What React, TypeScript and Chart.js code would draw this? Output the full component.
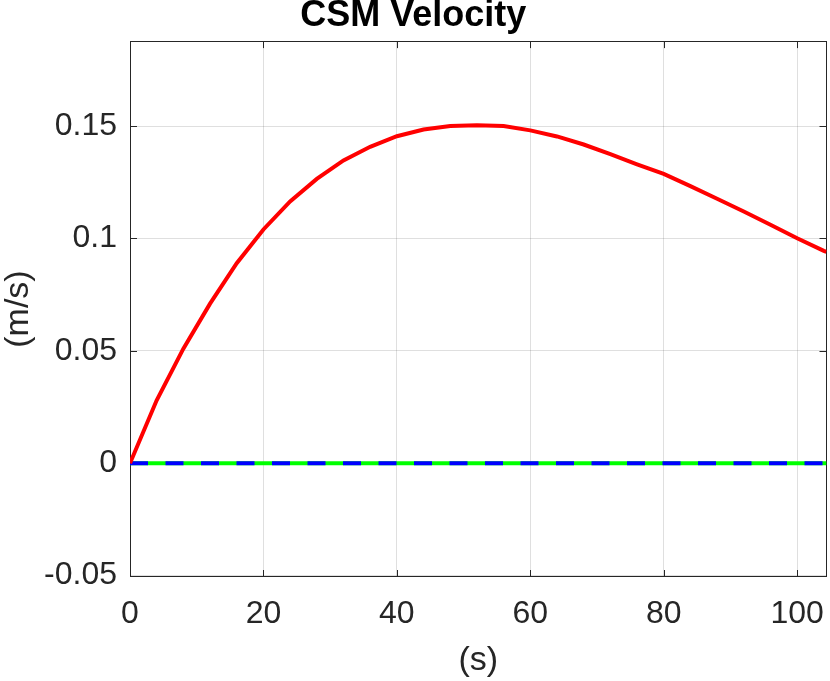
import { useEffect, useRef } from 'react';
import { Chart, registerables } from 'chart.js';

Chart.register(...registerables);

// time samples (s)
const timeS = [0, 4, 8, 12, 16, 20, 24, 28, 32, 36, 40, 44, 48, 52, 56, 60, 64, 68, 72, 76, 80, 84, 88, 92, 96, 100, 104, 104.4];

// velocity components (m/s)
const velX = [
  0, 0.028, 0.051, 0.071, 0.089, 0.104, 0.1165, 0.1265, 0.1347, 0.1408, 0.1455, 0.1485, 0.15, 0.1504,
  0.15, 0.1481, 0.1454, 0.1418, 0.1375, 0.133, 0.1287, 0.1233, 0.1177, 0.112, 0.1061, 0.1001, 0.0945, 0.094,
];
const velY = [0, 0, 0, 0, 0, 0, 0, 0, 0, 0, 0, 0, 0, 0, 0, 0, 0, 0, 0, 0, 0, 0, 0, 0, 0, 0, 0, 0];
const velZ = [0, 0, 0, 0, 0, 0, 0, 0, 0, 0, 0, 0, 0, 0, 0, 0, 0, 0, 0, 0, 0, 0, 0, 0, 0, 0, 0, 0];

const xTicks = [0, 20, 40, 60, 80, 100];
const yTicks = [-0.05, 0, 0.05, 0.1, 0.15];
const yTickLabels = ['-0.05', '0', '0.05', '0.1', '0.15'];

const AXIS = '#262626';
const FONT = "'Liberation Sans', Arial, Helvetica, sans-serif";

const toPoints = (ys: number[]) => timeS.map((t, i) => ({ x: t, y: ys[i] }));

// box around the axes + inward tick marks, like matlab
const axesBox = {
  id: 'axesBox',
  beforeDatasetsDraw(chart: any) {
    const { ctx, chartArea: a, scales } = chart;
    const len = 7;
    ctx.save();
    ctx.strokeStyle = AXIS;
    ctx.lineWidth = 1;
    ctx.beginPath();
    xTicks.forEach((v) => {
      const px = Math.round(scales.x.getPixelForValue(v)) + 0.5;
      ctx.moveTo(px, a.bottom);
      ctx.lineTo(px, a.bottom - len);
      ctx.moveTo(px, a.top);
      ctx.lineTo(px, a.top + len);
    });
    yTicks.forEach((v) => {
      const py = Math.round(scales.y.getPixelForValue(v)) + 0.5;
      ctx.moveTo(a.left, py);
      ctx.lineTo(a.left + len, py);
      ctx.moveTo(a.right, py);
      ctx.lineTo(a.right - len, py);
    });
    ctx.stroke();
    ctx.strokeRect(Math.round(a.left) + 0.5, Math.round(a.top) + 0.5, Math.round(a.width) - 1, Math.round(a.height) - 1);
    ctx.restore();
  },
};

export default function App() {
  const canvasRef = useRef<HTMLCanvasElement | null>(null);

  useEffect(() => {
    document.body.style.margin = '0';
    if (!canvasRef.current) return;

    const chart = new Chart(canvasRef.current, {
      type: 'line',
      data: {
        datasets: [
          {
            label: 'x',
            data: toPoints(velX),
            borderColor: '#ff0000',
            borderWidth: 4,
            pointRadius: 0,
            tension: 0,
          },
          {
            label: 'z',
            data: toPoints(velZ),
            borderColor: '#0000ff',
            borderWidth: 4,
            borderDash: [18, 17.5],
            borderCapStyle: 'butt',
            pointRadius: 0,
          },
          {
            label: 'y',
            data: toPoints(velY),
            borderColor: '#00ff00',
            borderWidth: 4,
            pointRadius: 0,
          },
        ],
      },
      options: {
        responsive: true,
        maintainAspectRatio: false,
        animation: false,
        layout: { padding: { left: 0, right: 3.5, top: 0, bottom: 0 } },
        plugins: {
          legend: { display: false },
          tooltip: { enabled: false },
          title: {
            display: true,
            text: 'CSM Velocity',
            color: '#000',
            font: { family: FONT, size: 36, weight: 'bold', lineHeight: 0.92 },
            padding: { top: 0, bottom: 8 },
          },
        },
        scales: {
          x: {
            type: 'linear',
            min: 0,
            max: 104.4,
            afterBuildTicks: (s: any) => {
              s.ticks = xTicks.map((v) => ({ value: v }));
            },
            afterFit: (s: any) => {
              s.height = 104;
              s.paddingLeft = 0;
              s.paddingRight = 0;
            },
            grid: { color: 'rgba(38,38,38,0.15)', drawTicks: false },
            border: { display: false },
            ticks: {
              color: AXIS,
              padding: 18,
              maxRotation: 0,
              font: { family: FONT, size: 32 },
            },
            title: {
              display: true,
              text: '(s)',
              color: AXIS,
              font: { family: FONT, size: 34, lineHeight: 1.12 },
              padding: { top: 0, bottom: 1 },
            },
          },
          y: {
            type: 'linear',
            min: -0.0506,
            max: 0.1878,
            afterBuildTicks: (s: any) => {
              s.ticks = yTicks.map((v) => ({ value: v }));
            },
            afterFit: (s: any) => {
              s.width = 130;
            },
            grid: { color: 'rgba(38,38,38,0.15)', drawTicks: false },
            border: { display: false },
            ticks: {
              color: AXIS,
              padding: 13,
              font: { family: FONT, size: 32 },
              callback: (v: any) => yTickLabels[yTicks.indexOf(Number(v))] ?? '',
            },
            title: {
              display: true,
              text: '(m/s)',
              color: AXIS,
              font: { family: FONT, size: 34, lineHeight: 1.12 },
              padding: { top: 0, bottom: 0 },
            },
          },
        },
      },
      plugins: [axesBox],
    });

    return () => chart.destroy();
  }, []);

  return (
    <div style={{ width: 830, height: 681, position: 'relative', background: '#fff' }}>
      <canvas ref={canvasRef}></canvas>
    </div>
  );
}
